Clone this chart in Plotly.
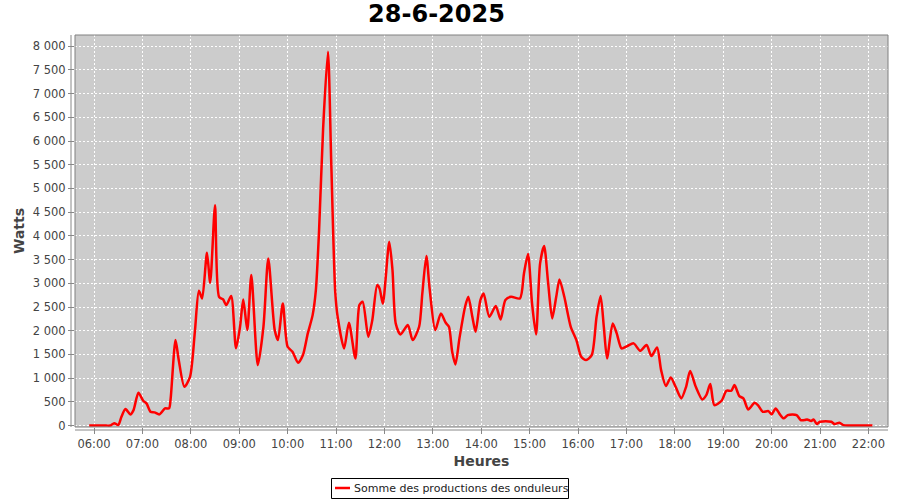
import plotly.graph_objects as go

DAY = "2025-06-28"
TITLE = "28-6-2025"
SERIES_NAME = "Somme des productions des onduleurs"
X_TITLE = "Heures"
Y_TITLE = "Watts"

times = [
    "05:54", "06:00", "06:05", "06:10", "06:15", "06:20", "06:25", "06:30", "06:34", "06:39",
    "06:45", "06:49", "06:55", "07:01", "07:05", "07:10", "07:15", "07:21", "07:28", "07:33",
    "07:35", "07:41", "07:45", "07:52", "07:59", "08:05", "08:10", "08:14", "08:20", "08:24",
    "08:30", "08:35", "08:40", "08:44", "08:50", "08:56", "09:01", "09:05", "09:10", "09:15",
    "09:23", "09:30", "09:36", "09:44", "09:48", "09:54", "10:00", "10:06", "10:13", "10:19",
    "10:25", "10:31", "10:35", "10:39", "10:44", "10:50", "10:54", "10:59", "11:02", "11:10",
    "11:16", "11:24", "11:29", "11:33", "11:40", "11:45", "11:51", "11:54", "11:58", "12:06",
    "12:10", "12:14", "12:20", "12:29", "12:35", "12:43", "12:47", "12:52", "12:56", "13:03",
    "13:10", "13:16", "13:20", "13:24", "13:28", "13:33", "13:40", "13:44", "13:49", "13:53",
    "13:59", "14:03", "14:10", "14:18", "14:24", "14:30", "14:37", "14:48", "14:53", "14:58",
    "15:03", "15:08", "15:13", "15:18", "15:23", "15:28", "15:33", "15:37", "15:43", "15:51",
    "15:58", "16:04", "16:10", "16:17", "16:23", "16:28", "16:32", "16:36", "16:43", "16:48",
    "16:54", "17:01", "17:09", "17:17", "17:25", "17:31", "17:38", "17:43", "17:49", "17:55",
    "18:01", "18:08", "18:14", "18:19", "18:26", "18:34", "18:39", "18:44", "18:49", "18:58",
    "19:04", "19:10", "19:14", "19:20", "19:25", "19:31", "19:39", "19:43", "19:49", "19:56",
    "20:00", "20:05", "20:10", "20:15", "20:20", "20:31", "20:36", "20:41", "20:44", "20:49",
    "20:52", "20:56", "21:00", "21:14", "21:18", "21:24", "21:29", "21:35", "21:45", "21:55",
    "22:05",
]

watts = [
    0, 0, 0, 0, 0, 0, 50, 10, 186, 348,
    236, 327, 692, 523, 468, 291, 278, 236, 362, 362,
    573, 1802, 1381, 818, 1029, 1977, 2842, 2681, 3643, 3010,
    4648, 2715, 2660, 2540, 2730, 1630, 2083, 2660, 2013, 3173,
    1275, 2083, 3524, 2013, 1802, 2576, 1661, 1556, 1324, 1486,
    1943, 2329, 2856, 4121, 6265, 7880, 5597, 2821, 2294, 1627,
    2167, 1416, 2540, 2610, 1872, 2224, 2962, 2892, 2570, 3875,
    3278, 2154, 1922, 2119, 1802, 2083, 2787, 3573, 2892, 2013,
    2365, 2167, 2083, 1556, 1290, 1838, 2504, 2715, 2294, 1977,
    2646, 2787, 2294, 2519, 2238, 2646, 2715, 2681, 3208, 3615,
    2576, 1922, 3419, 3784, 2998, 2260, 2715, 3082, 2715, 2083,
    1802, 1450, 1381, 1486, 2294, 2730, 2083, 1416, 2154, 1943,
    1627, 1676, 1733, 1577, 1697, 1465, 1648, 1170, 833, 1016,
    818, 573, 818, 1149, 818, 552, 643, 875, 432, 523,
    734, 734, 854, 622, 573, 341, 481, 432, 291, 306,
    236, 362, 242, 152, 221, 221, 116, 116, 130, 95,
    130, 32, 80, 80, 32, 59, 10, 0, 0, 0,
    0,
]

y_ticks = list(range(0, 8001, 500))
x_range = [f"{DAY} 05:36:24", f"{DAY} 22:24:18"]
y_range = [-30, 8235]

xs = [f"{DAY} {t}" for t in times]
LINE_COLOR = "#FF0000"

fig = go.Figure()
fig.add_trace(go.Scatter(
    x=xs, y=watts, mode="lines", name=SERIES_NAME,
    line=dict(color=LINE_COLOR, width=2.5, shape="spline", smoothing=0.7),
    showlegend=False,
))

font_family = "DejaVu Sans"
fig.update_layout(
    width=900, height=500,
    margin=dict(l=75, r=12, t=35, b=73, autoexpand=False),
    paper_bgcolor="white",
    plot_bgcolor="#CCCCCC",
    separators=", ",
    font=dict(family=font_family, size=11.5, color="#444444"),
    title=dict(text=f"<b>{TITLE}</b>", x=0.485, xref="container", xanchor="center",
               y=0.972, yanchor="middle", font=dict(size=24, color="black", family=font_family),
               automargin=False),
    showlegend=False,
)
fig.update_xaxes(
    type="date", range=x_range, dtick=3600000, tick0=f"{DAY} 06:00", tickformat="%H:%M",
    showgrid=True, gridcolor="white", griddash="2px,2px", gridwidth=1, automargin=False,
    ticks="outside", ticklen=6, tickcolor="#888888", zeroline=False, showline=False,
    title=dict(text=f"<b>{X_TITLE}</b>", font=dict(size=14, color="#444444"), standoff=6),
)
fig.update_yaxes(
    range=y_range, tickvals=y_ticks, tickformat=",d", automargin=False,
    showgrid=True, gridcolor="white", griddash="2px,2px", gridwidth=1,
    ticks="outside", ticklen=6, tickcolor="#888888", zeroline=False, showline=False,
    title=dict(text=f"<b>{Y_TITLE}</b>", font=dict(size=14, color="#444444"), standoff=4),
)
# plot outline and offset axis lines
fig.add_shape(type="rect", xref="paper", yref="paper", x0=0, x1=1, y0=0, y1=1,
              line=dict(color="#808080", width=1), layer="above")
fig.add_shape(type="line", xref="paper", yref="paper", x0=-4/813, x1=-4/813, y0=0, y1=1,
              line=dict(color="#888888", width=1))
fig.add_shape(type="line", xref="paper", yref="paper", x0=0, x1=1, y0=-3/392, y1=-3/392,
              line=dict(color="#888888", width=1))

# legend box (manual, to match the compact legend of the reference)
PW, PH = 813.0, 392.0
def px(xp):
    return (xp - 75) / PW
def py(yp):
    return (427 - yp) / PH
fig.add_shape(type="rect", xref="paper", yref="paper", x0=px(331.5), x1=px(568.5),
              y0=py(498.5), y1=py(478.5), line=dict(color="black", width=1), fillcolor="white")
fig.add_shape(type="line", xref="paper", yref="paper", x0=px(335), x1=px(350),
              y0=py(488), y1=py(488), line=dict(color=LINE_COLOR, width=2.5))
fig.add_annotation(xref="paper", yref="paper", x=px(352), y=py(488.5), xanchor="left",
                   yanchor="middle", text=SERIES_NAME, showarrow=False,
                   font=dict(size=11, color="#222222", family=font_family))

fig.write_html("out.html", post_script="document.body.style.margin='0';",
               config={"displayModeBar": False})
